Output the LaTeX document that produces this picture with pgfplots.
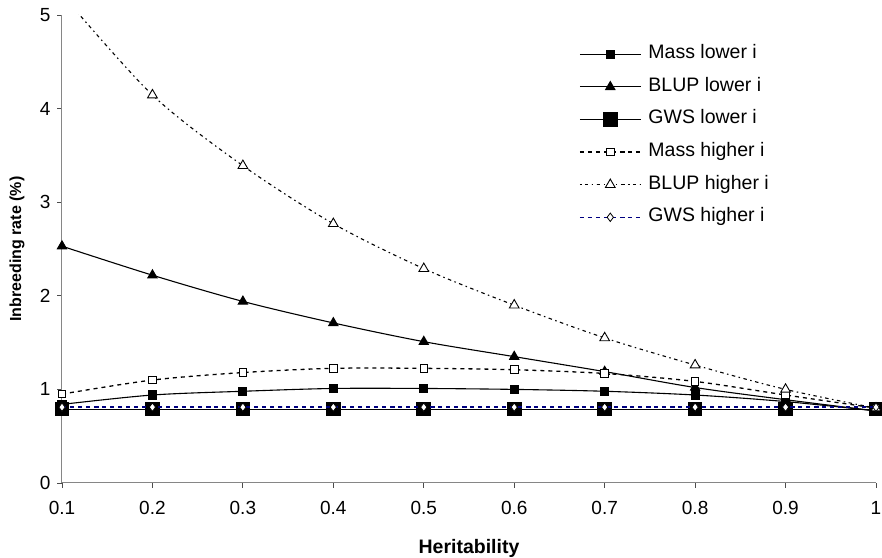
\documentclass[border=0pt]{standalone}
\usepackage{fontspec}
\setmainfont{Liberation Sans}
\usepackage{pgfplots}
\pgfplotsset{compat=1.18}
\definecolor{axgray}{HTML}{868686}
\definecolor{gwsnavy}{HTML}{000080}

\begin{document}
\begin{tikzpicture}
\begin{axis}[
  name=ax,
  scale only axis,
  width=814pt, height=468pt,
  xmin=0.1, xmax=1, ymin=0, ymax=5,
  clip mode=individual,
  xtick={0.1,0.2,0.3,0.4,0.5,0.6,0.7,0.8,0.9,1},
  xticklabels={0.1,0.2,0.3,0.4,0.5,0.6,0.7,0.8,0.9,1},
  ytick={0,1,2,3,4,5},
  axis x line*=bottom, axis y line*=left,
  axis line style={axgray, line width=1pt},
  tick align=outside, major tick length=5pt,
  tick style={black!70, line width=0.9pt},
  /pgf/number format/assume math mode=true,
  tick label style={font=\fontsize{19}{22}\selectfont},
  xticklabel style={yshift=-10pt},
  yticklabel style={xshift=-3pt},
  xlabel={\textbf{Heritability}},
  ylabel={\textbf{Inbreeding rate (\%)}},
  every axis x label/.style={at={(axis description cs:0.5,-0.1389)}, anchor=center,
    font=\fontsize{19.5}{22}\selectfont},
  every axis y label/.style={at={(axis description cs:-0.0553,0.5)}, anchor=center, rotate=90,
    font=\fontsize{16}{19}\selectfont},
  legend style={draw=none, fill=none, at={(0.635,0.94)}, anchor=north west,
    font=\fontsize{19.5}{22}\selectfont, inner sep=0pt,
    nodes={text height=13.5pt, text depth=4.5pt},
    row sep=10.6pt,
    /tikz/every odd column/.append style={column sep=5pt}},
  legend cell align=left,
  legend image code/.code={
    \draw[mark repeat=2, mark phase=2] plot coordinates {(0pt,0pt) (30.5pt,0pt) (61pt,0pt)};
  },
]
\addplot[black, line width=1.1pt, smooth, mark=square*, mark size=4pt, mark options={solid}] coordinates {
  (0.1,0.84) (0.2,0.94) (0.3,0.98) (0.4,1.01) (0.5,1.01) (0.6,1.00) (0.7,0.98) (0.8,0.94) (0.9,0.87) (1.0,0.77)
};
\addlegendentry{Mass lower i}
\addplot[black, line width=1.1pt, smooth, mark=triangle*, mark size=5.2pt, mark options={solid}] coordinates {
  (0.1,2.53) (0.2,2.22) (0.3,1.94) (0.4,1.71) (0.5,1.51) (0.6,1.35) (0.7,1.19) (0.8,1.02) (0.9,0.89) (1.0,0.77)
};
\addlegendentry{BLUP lower i}
\addplot[black, line width=1.1pt, smooth, mark=square*, mark size=6.8pt, mark options={solid}] coordinates {
  (0.1,0.79) (0.2,0.79) (0.3,0.79) (0.4,0.79) (0.5,0.79) (0.6,0.79) (0.7,0.79) (0.8,0.79) (0.9,0.79) (1.0,0.79)
};
\addlegendentry{GWS lower i}
\addplot[black, line width=1.3pt, smooth, dash pattern=on 4pt off 4pt, mark=square*, mark size=3.8pt, mark options={solid, fill=white, line width=0.9pt}] coordinates {
  (0.1,0.95) (0.2,1.10) (0.3,1.18) (0.4,1.225) (0.5,1.225) (0.6,1.21) (0.7,1.17) (0.8,1.085) (0.9,0.94) (1.0,0.80)
};
\addlegendentry{Mass higher i}
\addplot[black, line width=1.1pt, smooth, dash pattern=on 1.5pt off 3.5pt on 3.5pt off 3.5pt, mark=triangle*, mark size=5.6pt, mark options={solid, fill=white, line width=0.9pt}] coordinates {
  (0.1,5.22) (0.2,4.145) (0.3,3.39) (0.4,2.77) (0.5,2.29) (0.6,1.90) (0.7,1.55) (0.8,1.26) (0.9,1.00) (1.0,0.80)
};
\addlegendentry{BLUP higher i}
\addplot[gwsnavy, line width=1.4pt, smooth, dash pattern=on 4pt off 4pt, mark=diamond*, mark size=4.2pt, mark options={solid, fill=white, draw=black, line width=0.8pt}] coordinates {
  (0.1,0.81) (0.2,0.81) (0.3,0.81) (0.4,0.81) (0.5,0.81) (0.6,0.81) (0.7,0.81) (0.8,0.81) (0.9,0.81) (1.0,0.81)
};
\addlegendentry{GWS higher i}
\end{axis}
\pgfresetboundingbox
\useasboundingbox ([xshift=-62pt,yshift=-75pt]ax.south west) rectangle ([xshift=6pt,yshift=15pt]ax.north east);
\end{tikzpicture}
\end{document}
